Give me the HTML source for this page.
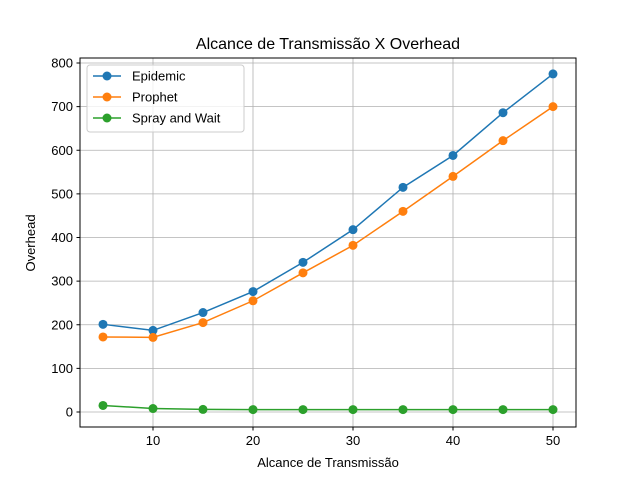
<!DOCTYPE html>
<html><head><meta charset="utf-8"><style>
body{margin:0;background:#fff;}
svg{font-family:"Liberation Sans","DejaVu Sans",sans-serif;}
</style></head><body>
<svg id="chart" width="640" height="480" xmlns="http://www.w3.org/2000/svg">
<rect width="640" height="480" fill="#fff"/>
<text x="328" y="49" font-size="16" text-anchor="middle">Alcance de Transmissão X Overhead</text>
<g id="grid"></g>
<g id="series"></g>
<rect x="80" y="58" width="496" height="369" fill="none" stroke="#000" stroke-width="1"/>
<g id="ticks"></g>
<text x="328" y="467" font-size="13" text-anchor="middle">Alcance de Transmissão</text>
<text transform="translate(35,243) rotate(-90)" font-size="13" text-anchor="middle">Overhead</text>
<g>
<rect x="87" y="65" width="157" height="67" rx="3" fill="#fff" fill-opacity="0.8" stroke="#ccc"/>
</g>
<g id="legend"></g>
</svg>
<script>
const categories=[5,10,15,20,25,30,35,40,45,50];
const epidemic=[201,187,228,276,343,418,515,588,686,775];
const prophet=[172,171,205,255,319,382,460,540,622,700];
const spray=[15,8,6,5.5,5.5,5.5,5.5,5.5,5.5,5.5];
const xTicks=[10,20,30,40,50];
const yTicks=[0,100,200,300,400,500,600,700,800];
const seriesNames=['Epidemic','Prophet','Spray and Wait'];
const colors=['#1f77b4','#ff7f0e','#2ca02c'];
const NS='http://www.w3.org/2000/svg';
const X=v=>53+v*10;
const Y=v=>412-v*0.43625;
function mk(t,a,p){const e=document.createElementNS(NS,t);for(const k in a)e.setAttribute(k,a[k]);p.appendChild(e);return e;}
const grid=document.getElementById('grid'),ticks=document.getElementById('ticks'),ser=document.getElementById('series'),leg=document.getElementById('legend');
xTicks.forEach(t=>{
 const g=mk('line',{x1:X(t),x2:X(t),y1:58,y2:427,stroke:'#b0b0b0','stroke-width':0.8},grid);
 
 
 mk('line',{x1:X(t),x2:X(t),y1:427,y2:430.5,stroke:'#000'},ticks);
 const l=mk('text',{x:X(t),y:445,'font-size':13,'text-anchor':'middle'},ticks);
 l.textContent=t;
 
 
});
yTicks.forEach(t=>{
 const g=mk('line',{x1:80,x2:576,y1:Y(t),y2:Y(t),stroke:'#b0b0b0','stroke-width':0.8},grid);
 
 
 mk('line',{x1:76.5,x2:80,y1:Y(t),y2:Y(t),stroke:'#000'},ticks);
 const l=mk('text',{x:73,y:Y(t)+4.5,'font-size':13,'text-anchor':'end'},ticks);
 l.textContent=t;
 
 
});
[epidemic,prophet,spray].forEach((d,i)=>{
 const g=mk('g',{},ser);
 
 
 mk('polyline',{points:d.map((v,j)=>X(categories[j])+','+Y(v)).join(' '),fill:'none',stroke:colors[i],'stroke-width':1.5},g);
 d.forEach((v,j)=>{
  const c=mk('circle',{cx:X(categories[j]),cy:Y(v),r:4.5,fill:colors[i]},g);
  
  
 });
 const y=76+i*21;
 const e=mk('g',{},leg);
 
 
 mk('line',{x1:93,x2:121,y1:y,y2:y,stroke:colors[i],'stroke-width':1.5},e);
 mk('circle',{cx:107,cy:y,r:4.5,fill:colors[i]},e);
 const t=mk('text',{x:132,y:y+4.5,'font-size':13},e);
 t.textContent=seriesNames[i];
});
</script>
</body></html>
